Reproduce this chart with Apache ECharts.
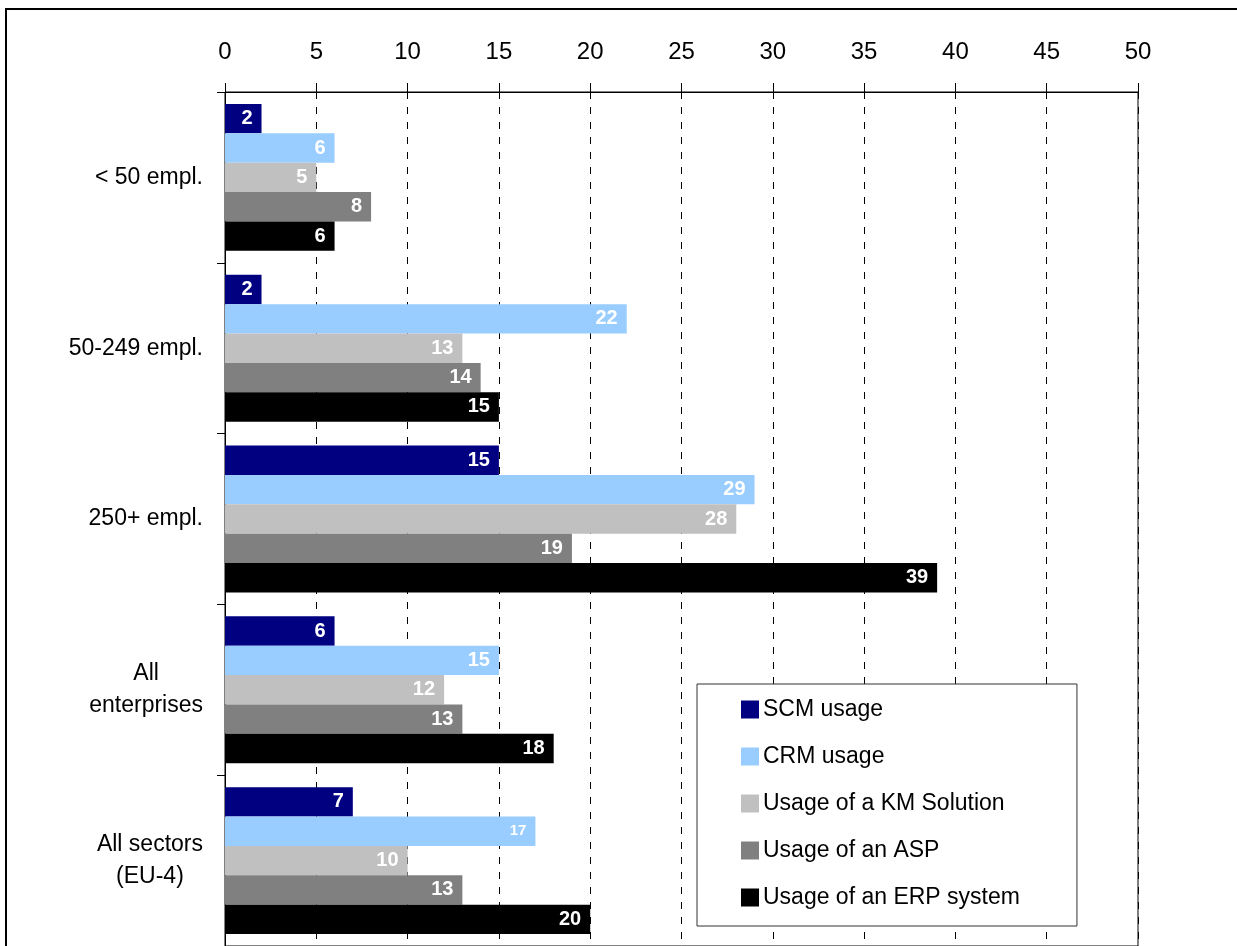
<!DOCTYPE html>
<html>
<head>
<meta charset="utf-8">
<script src="https://cdn.jsdelivr.net/npm/echarts@6/dist/echarts.min.js"></script>
<style>
  html, body { margin: 0; padding: 0; background: #fff; }
  #chart { width: 1237px; height: 946px; }
</style>
</head>
<body>
<div id="chart"></div>
<script>
// Enterprise groups (top to bottom)
const categories = ['< 50 empl.', '50-249 empl.', '250+ empl.', 'All\nenterprises', 'All sectors\n(EU-4)'];

// Share of enterprises using each e-business solution (%)
const scmUsage = [2, 2, 15, 6, 7];
const crmUsage = [6, 22, 29, 15, 17];
const kmUsage  = [5, 13, 28, 12, 10];
const aspUsage = [8, 14, 19, 13, 13];
const erpUsage = [6, 15, 39, 18, 20];

const seriesNames = ['SCM usage', 'CRM usage', 'Usage of a KM Solution', 'Usage of an ASP', 'Usage of an ERP system'];
const seriesColors = ['#000080', '#99CCFF', '#C0C0C0', '#808080', '#000000'];
const seriesValues = [scmUsage, crmUsage, kmUsage, aspUsage, erpUsage];

const FONT = '"Liberation Sans", Arial, sans-serif';

const chart = echarts.init(document.getElementById('chart'), null, { renderer: 'canvas' });

const series = seriesValues.map((vals, i) => ({
  name: seriesNames[i],
  type: 'bar',
  barGap: '0%',
  barCategoryGap: '14%',
  itemStyle: { color: seriesColors[i] },
  label: {
    show: true,
    position: 'insideRight',
    distance: 9,
    color: '#ffffff',
    fontWeight: 'bold',
    fontSize: 20,
    fontFamily: FONT
  },
  // the CRM value for "All sectors" is printed in a smaller type
  data: vals.map((v, j) => (i === 1 && j === 4)
    ? { value: v, label: { fontSize: 15 } }
    : v)
}));

chart.setOption({
  animation: false,
  backgroundColor: '#ffffff',
  textStyle: { fontFamily: FONT },
  graphic: [{
    type: 'rect',
    shape: { x: 6, y: 9, width: 1300, height: 1000 },
    style: { fill: 'none', stroke: '#000', lineWidth: 2 },
    silent: true,
    z: -10
  }],
  grid: {
    left: 225,
    top: 92,
    width: 913,
    height: 855,
    show: true,
    borderColor: '#000',
    borderWidth: 1,
    backgroundColor: 'transparent'
  },
  legend: {
    orient: 'vertical',
    left: 697,
    top: 684,
    data: seriesNames,
    itemWidth: 18,
    itemHeight: 18,
    itemGap: 24,
    icon: 'rect',
    padding: [14, 57, 17, 44],
    backgroundColor: '#ffffff',
    borderColor: '#333333',
    borderWidth: 1,
    textStyle: { fontSize: 23, color: '#000', fontFamily: FONT, padding: [0, 0, 0, -1] }
  },
  xAxis: {
    type: 'value',
    position: 'top',
    min: 0,
    max: 50,
    interval: 5,
    axisLine: { show: true, lineStyle: { color: '#000', width: 1 } },
    axisTick: { show: true, length: 9, lineStyle: { color: '#000' } },
    axisLabel: { fontSize: 24, color: '#000', margin: 28, fontFamily: FONT },
    splitLine: { show: true, lineStyle: { color: '#000', type: [7, 8], width: 1 } }
  },
  yAxis: {
    type: 'category',
    inverse: true,
    data: categories,
    axisLine: { show: true, lineStyle: { color: '#000', width: 1 } },
    axisTick: { show: true, length: 8, lineStyle: { color: '#000' } },
    axisLabel: {
      fontSize: 23,
      color: '#000',
      margin: 22,
      align: 'right',
      lineHeight: 32,
      fontFamily: FONT,
      formatter: (v) => v.split('\n').map(s => '{c|' + s + '}').join('\n'),
      rich: { c: { align: 'center', fontSize: 23, lineHeight: 32, fontFamily: FONT, color: '#000' } }
    }
  },
  series: series
});
</script>
</body>
</html>
